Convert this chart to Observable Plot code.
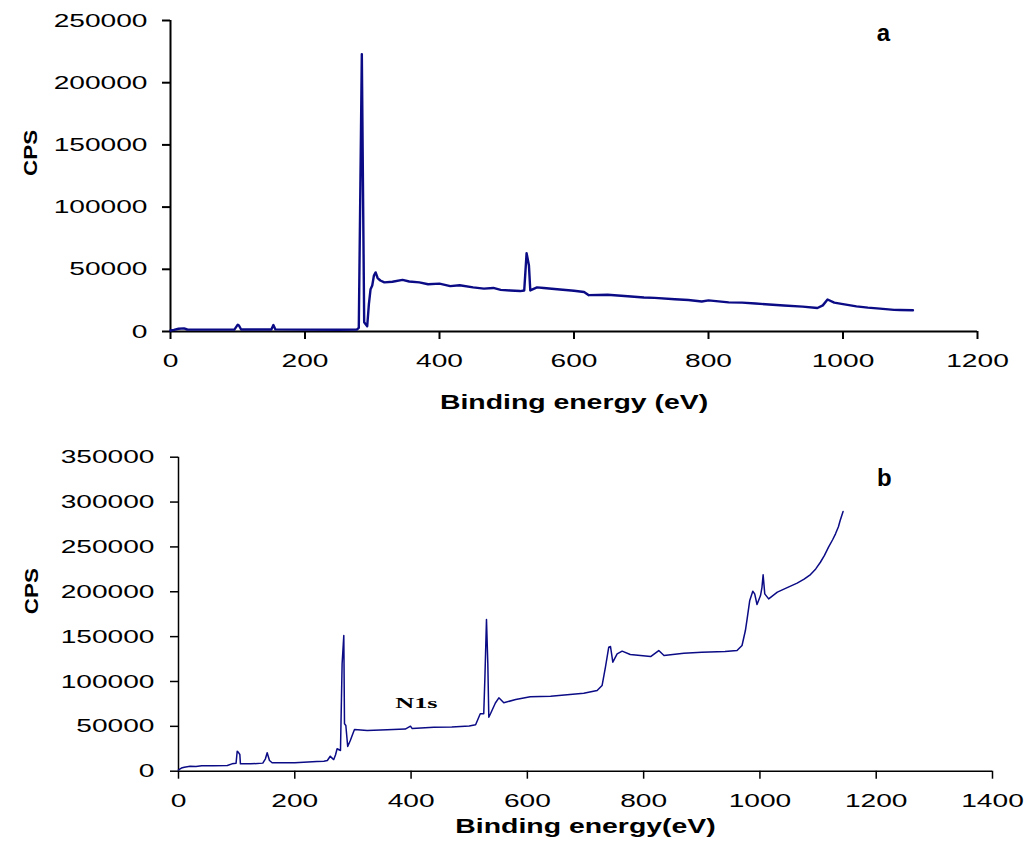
<!DOCTYPE html>
<html>
<head>
<meta charset="utf-8">
<script src="https://cdn.jsdelivr.net/npm/d3@7"></script>
<script src="https://cdn.jsdelivr.net/npm/@observablehq/plot@0.6"></script>
<style>
  html, body { margin: 0; padding: 0; background: #fff; }
  #wrap { position: relative; width: 1024px; height: 849px; overflow: hidden; }
  #wrap svg { position: absolute; left: 0; }
</style>
</head>
<body>
<div id="wrap"></div>
<script>
// ---- Panel a data (binding energy eV, counts per second) ----
const aEnergy = [0,5,12,20,25,40,60,95,100,102,105,150,153,156,200,250,277,280,284.5,288,292.5,295,297.5,300,302.5,305,308,312,318,330,345,355,370,383,400,416,430,450,466,480,491,505,520,526,529.5,533,535,545,555,575,600,615,622,650,680,704,720,750,770,790,800,830,850,870,890,912,940,962,970,977,987,1000,1020,1037,1055,1076,1085,1104];
const aCps = [800,1300,2200,2500,1600,1500,1500,1500,5500,4600,1600,1600,5200,1700,1500,1400,1500,3000,223000,7500,4200,22000,34000,37000,45000,47500,43000,41000,39500,40000,41500,40200,39500,38000,38500,36500,37200,35500,34500,35000,33500,33000,32500,33000,63000,53000,33000,35500,35000,34000,32800,31800,29200,29500,28300,27300,27000,25900,25300,24100,25000,23400,23200,22500,21700,20900,20000,18900,21000,25700,23200,22000,20200,19200,18400,17400,17300,17100];

// ---- Panel b data ----
const bEnergy = [0,5,10,20,30,40,60,84,92,99,101,103,105.5,106.5,124,145,149.5,152.5,156.5,161,200,238,250,256,261,265,267,270,272.8,278.6,281.4,284.3,285.5,287.8,291,295.5,300,302.7,324.5,359,390,399,402,439,470,500,511,519,525,527,529.7,532,533.7,536.6,545,551,559.5,580,605,640,697,720,728.5,734.3,740,743,747,754.4,763,777,812,826,835,869,900,940,960.6,969.2,975,978,982.5,987.7,991,995,1001,1003.5,1005.5,1008.3,1015,1030,1045,1064,1076,1087,1096,1104,1111,1118,1125,1130,1135,1138,1143];
const bCps = [1500,3500,4500,5600,5300,6000,6200,6300,8200,8900,22300,21000,18600,8200,8200,9000,13800,20500,11900,9400,9400,10800,11200,11900,16700,14000,13000,18000,25000,23100,119700,151300,52800,50900,27500,34200,42000,46500,45400,46100,47000,50200,47500,49000,49300,50500,51700,64000,64000,104800,169000,119700,60200,64000,76000,81800,76200,80000,83000,83600,86900,90000,95500,115900,138200,139000,121500,130800,133800,130100,127800,134500,129000,131500,132500,133500,134500,140100,156800,169900,190300,200600,197700,185800,195800,205000,219000,197700,192100,199600,204000,209600,214000,219200,225500,232900,240500,249700,258000,264600,272500,279500,289500];

// ---- Ticks and texts ----
const xTicksA = [0,200,400,600,800,1000,1200];
const yTicksA = [0,50000,100000,150000,200000,250000];
const xTicksB = [0,200,400,600,800,1000,1200,1400];
const yTicksB = [0,50000,100000,150000,200000,250000,300000,350000];
const xTitleA = "Binding energy (eV)";
const xTitleB = "Binding energy(eV)";
const yTitle = "CPS";
const panelA = [{label: "a", x: 1060, y: 240000}];
const panelB = [{label: "b", x: 1214, y: 326000}];
const annotB = [{label: "N1s", x: 409, y: 75500}];

const lineColor = "#0b0b86";
const font = "'Liberation Sans', Arial, sans-serif";
const fmt = d => String(d);

const dataA = aEnergy.map((e, i) => ({e, c: aCps[i]}));
const dataB = bEnergy.map((e, i) => ({e, c: bCps[i]}));

const plotA = Plot.plot({
  width: 1024, height: 430,
  marginLeft: 170, marginRight: 47, marginTop: 20, marginBottom: 99,
  style: {fontFamily: font, fontSize: "19px", color: "#000", background: "transparent"},
  x: {domain: [0, 1200]},
  y: {domain: [0, 250000]},
  marks: [
    Plot.axisX({ticks: xTicksA, tickFormat: fmt, tickSize: 8, tickPadding: 14, label: null, strokeWidth: 2}),
    Plot.axisY({ticks: yTicksA, tickFormat: fmt, tickSize: 8, tickPadding: 15, label: null, strokeWidth: 2}),
    Plot.ruleY([0], {stroke: "#000", strokeWidth: 2}),
    Plot.ruleX([0], {stroke: "#000", strokeWidth: 2}),
    Plot.line(dataA, {x: "e", y: "c", stroke: lineColor, strokeWidth: 2.4}),
    Plot.text([xTitleA], {frameAnchor: "bottom", dy: 77, fontWeight: "bold", fontSize: 20, className: "ttl"}),
    Plot.text([yTitle], {frameAnchor: "left", dx: -140, rotate: -90, fontWeight: "bold", fontSize: 19, className: "cps"}),
    Plot.text(panelA, {x: "x", y: "y", text: "label", fontWeight: "bold", fontSize: 24})
  ]
});

const plotB = Plot.plot({
  width: 1024, height: 419,
  marginLeft: 178, marginRight: 32, marginTop: 26.7, marginBottom: 78.3,
  style: {fontFamily: font, fontSize: "19px", color: "#000", background: "transparent"},
  x: {domain: [0, 1400]},
  y: {domain: [0, 350000]},
  marks: [
    Plot.axisX({ticks: xTicksB, tickFormat: fmt, tickSize: 8, tickPadding: 14, label: null, strokeWidth: 1.5}),
    Plot.axisY({ticks: yTicksB, tickFormat: fmt, tickSize: 8, tickPadding: 16, label: null, strokeWidth: 1.5}),
    Plot.ruleY([0], {stroke: "#000", strokeWidth: 1.5}),
    Plot.ruleX([0], {stroke: "#000", strokeWidth: 1.5}),
    Plot.line(dataB, {x: "e", y: "c", stroke: lineColor, strokeWidth: 1.5}),
    Plot.text([xTitleB], {frameAnchor: "bottom", dy: 62, fontWeight: "bold", fontSize: 20, className: "ttl"}),
    Plot.text([yTitle], {frameAnchor: "left", dx: -147, rotate: -90, fontWeight: "bold", fontSize: 19, className: "cps"}),
    Plot.text(panelB, {x: "x", y: "y", text: "label", fontWeight: "bold", fontSize: 24}),
    Plot.text(annotB, {x: "x", y: "y", text: "label", fontWeight: "bold", fontSize: 15, fontFamily: "'Liberation Serif', 'Times New Roman', serif", className: "n1s"})
  ]
});

const wrap = document.getElementById("wrap");
plotA.style.top = "0px";
plotB.style.top = "430px";
wrap.appendChild(plotA);
wrap.appendChild(plotB);

// The reference figure is horizontally stretched: widen texts accordingly.
function stretch(sel, factor, root) {
  root.querySelectorAll(sel).forEach(t => {
    const w = t.getComputedTextLength();
    if (w > 0) {
      t.setAttribute("textLength", (w * factor).toFixed(1));
      t.setAttribute("lengthAdjust", "spacingAndGlyphs");
    }
  });
}
for (const p of [plotA, plotB]) {
  stretch('g[aria-label="x-axis tick label"] text', 1.48, p);
  stretch('g[aria-label="y-axis tick label"] text', 1.48, p);
  stretch('.ttl text', 1.42, p);
  stretch('.cps text', 1.18, p);
  stretch('.n1s text', 1.75, p);
}
</script>
</body>
</html>
